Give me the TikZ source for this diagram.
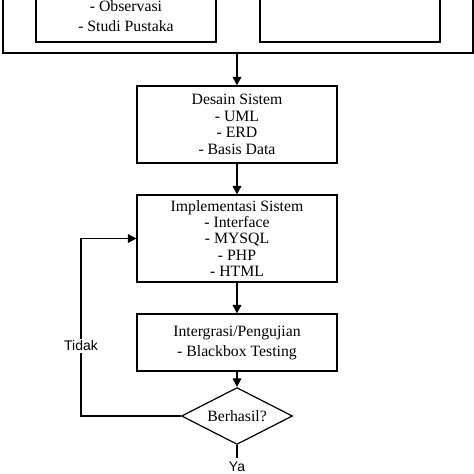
\documentclass[tikz,border=0pt]{standalone}
\usepackage{fontspec}
\setmainfont{Liberation Serif}
\newfontfamily\labelfont{Liberation Sans}
\usetikzlibrary{arrows.meta,shapes.geometric}

\tikzset{
  kotak/.style={draw, line width=1pt, minimum width=5.8cm, align=center,
    font=\fontsize{13}{13.6}\selectfont},
  panah/.style={line width=1.4pt, -{Triangle[length=7pt,width=7pt]}},
  garis/.style={line width=1.2pt},
  ket/.style={font=\labelfont\fontsize{11.5}{13}\selectfont}
}

\begin{document}
\begin{tikzpicture}[x=0.029cm, y=-0.029cm]
  \useasboundingbox (0,0) rectangle (474,474);
  \clip (0,0) rectangle (474,474);

    % tahap awal (terpotong di atas)
    \node[draw, line width=1.2pt, minimum width=13.63cm, minimum height=3.28cm] (awal) at (238,-3.5) {};
    \draw[line width=1pt](36,-60) rectangle (216,42);
    \draw[line width=1pt](260,-60) rectangle (440,42);
    \node[align=center, font=\fontsize{13}{16.5}\selectfont] (kumpul) at (126,16.5) {- Observasi\\- Studi Pustaka};

    \node[kotak, minimum height=2.23cm] (desain) at (237,124.5)
      {Desain Sistem\\- UML\\- ERD\\- Basis Data};
    \node[kotak, minimum height=2.52cm] (impl) at (237,238.5)
      {Implementasi Sistem\\- Interface\\- MYSQL\\- PHP\\- HTML};
    \node[kotak, minimum height=1.65cm, font=\fontsize{13}{16.5}\selectfont] (uji) at (237,342.5)
      {Intergrasi/Pengujian\\- Blackbox Testing};
    \node[draw, line width=1pt, diamond, aspect=2, inner sep=0pt,
      minimum width=3.22cm, minimum height=1.65cm,
      font=\fontsize{13}{13.6}\selectfont] (cek) at (237,416) {Berhasil?};

    \node[ket, fill=white, inner sep=1pt] (tidak) at (81,346) {Tidak};
    \node[ket] (ya) at (237,467) {Ya};
    \coordinate (belok) at (81,416);

    \draw[panah](awal.south -| desain.north) -- (desain.north);
    \draw[panah](desain.south) -- (impl.north);
    \draw[panah](impl.south) -- (uji.north);
    \draw[panah](uji.south) -- (cek.north);
    \draw[garis](cek.west) -- (belok) -- (tidak.south);
    \draw[panah](tidak.north) |- (impl.west);
    \draw[garis](cek.south) -- (ya.north);

\end{tikzpicture}
\end{document}
